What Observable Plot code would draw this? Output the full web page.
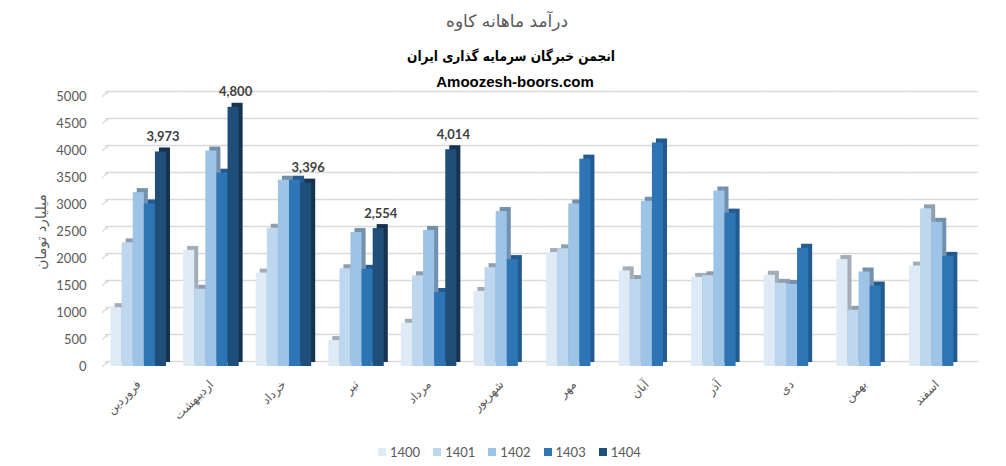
<!DOCTYPE html>
<html>
<head>
<meta charset="utf-8">
<script src="https://cdn.jsdelivr.net/npm/d3@7"></script>
<script src="https://cdn.jsdelivr.net/npm/@observablehq/plot@0.6"></script>
<style>
  body { margin: 0; background: #fff; }
  #wrap { position: relative; width: 1006px; height: 466px; overflow: hidden; font-family: Lato, "DejaVu Sans", sans-serif; }
  .t { position: absolute; transform: translateX(-50%); white-space: nowrap; text-align: center; }
  #title { left: 507px; top: 11px; font-family: "DejaVu Sans", sans-serif; font-size: 17px; color: #595959; }
  #sub1 { left: 511px; top: 48px; font-family: "DejaVu Sans", sans-serif; font-size: 14px; font-weight: bold; color: #000; transform: translateX(-50%) scaleX(0.87); }
  #sub2 { left: 515px; top: 73px; font-family: "Liberation Sans", Arial, sans-serif; font-size: 15px; font-weight: bold; color: #000; }
  #ylabel { position: absolute; left: 41px; top: 232px; transform: translate(-50%, -50%) rotate(-90deg); font-family: "DejaVu Sans", sans-serif; font-size: 14px; color: #595959; white-space: nowrap; }
  #legend { position: absolute; left: 378px; top: 444px; display: flex; gap: 13px; font-family: Lato, sans-serif; font-size: 13px; color: #595959; }
  #legend .item { display: flex; align-items: center; gap: 4px; }
  #legend .sw { width: 8px; height: 8px; display: inline-block; }
  #chart { position: absolute; left: 0; top: 0; }
</style>
</head>
<body>
<div id="wrap">
  <div id="chart"></div>
  <div class="t" id="title" dir="rtl">درآمد ماهانه کاوه</div>
  <div class="t" id="sub1" dir="rtl">انجمن خبرگان سرمایه گذاری ایران</div>
  <div class="t" id="sub2">Amoozesh-boors.com</div>
  <div id="ylabel" dir="rtl">میلیارد تومان</div>
  <div id="legend"></div>
</div>
<script>
const months = ["فروردین","اردیبهشت","خرداد","تیر","مرداد","شهریور","مهر","آبان","آذر","دی","بهمن","اسفند"];
const years = ["1400","1401","1402","1403","1404"];
const v1400 = [1090, 2150, 1730, 480, 800, 1390, 2110, 1770, 1650, 1690, 1980, 1860];
const v1401 = [2290, 1430, 2560, 1810, 1680, 1830, 2180, 1610, 1680, 1540, 1040, 2920];
const v1402 = [3220, 3990, 3450, 2480, 2520, 2870, 3010, 3060, 3250, 1520, 1750, 2670];
const v1403 = [3010, 3580, 3450, 1800, 1370, 1980, 3840, 4140, 2840, 2190, 1490, 2040];
const v1404 = [3973, 4800, 3396, 2554, 4014];
const yTicks = [0, 500, 1000, 1500, 2000, 2500, 3000, 3500, 4000, 4500, 5000];
const frontColors = ["#deebf7", "#bdd7ee", "#9dc3e6", "#2e75b6", "#1f4e79"];
const sideColors = ["#a3adb8", "#909fb0", "#7390ad", "#235b90", "#15334f"];

const series = [v1400, v1401, v1402, v1403, v1404];
const rows = [];
series.forEach((vals, i) => vals.forEach((v, j) => rows.push({month: months[j], year: years[i], value: v})));

const barMarks = years.flatMap((yr, i) => {
  const data = rows.filter(d => d.year === yr);
  return [
    Plot.barY(data, {fx: "month", x: "year", y: "value", fill: sideColors[i], dx: 4, dy: -4}),
    Plot.barY(data, {fx: "month", x: "year", y: "value", fill: frontColors[i]})
  ];
});

const plot = Plot.plot({
  width: 1006,
  height: 466,
  marginLeft: 102,
  marginRight: 33,
  marginTop: 96,
  marginBottom: 100,
  style: {fontFamily: "Lato, sans-serif", fontSize: "13px", color: "#595959", background: "transparent"},
  fx: {domain: months, padding: 0, round: false, axis: "bottom", label: null, tickRotate: -45, tickSize: 0, tickPadding: 16,
       tickFormat: d => d},
  x: {domain: years, paddingInner: 0, paddingOuter: 0.77, round: false, axis: null},
  y: {domain: [0, 5000], ticks: yTicks, tickSize: 0, tickPadding: 16, label: null, tickFormat: d3.format("d")},
  marks: [
    Plot.ruleY(yTicks, {dx: 5, dy: -5, stroke: "#d9d9d9", strokeWidth: 1.5}),
    Plot.vector(yTicks, {fx: () => months[0], y: d => d, frameAnchor: "left", length: 7, rotate: 45, anchor: "start", stroke: "#d9d9d9", strokeWidth: 1.2}),
    ...barMarks,
    Plot.text(rows.filter(d => d.year === "1404"), {fx: "month", x: "year", y: "value", text: d => d3.format(",")(d.value),
      dy: -15, dx: 2, fontWeight: "bold", fontSize: 13, fill: "#404040"})
  ]
});
document.getElementById("chart").appendChild(plot);
d3.select(plot).selectAll("[aria-label='fx-axis tick label'] text, g[aria-label='fx-axis'] text")
  .style("font-family", "'DejaVu Sans', sans-serif").style("font-size", "12px");

const legend = document.getElementById("legend");
years.forEach((yr, i) => {
  const it = document.createElement("div");
  it.className = "item";
  it.innerHTML = `<span class="sw" style="background:${frontColors[i]}"></span><span>${yr}</span>`;
  legend.appendChild(it);
});
</script>
</body>
</html>
